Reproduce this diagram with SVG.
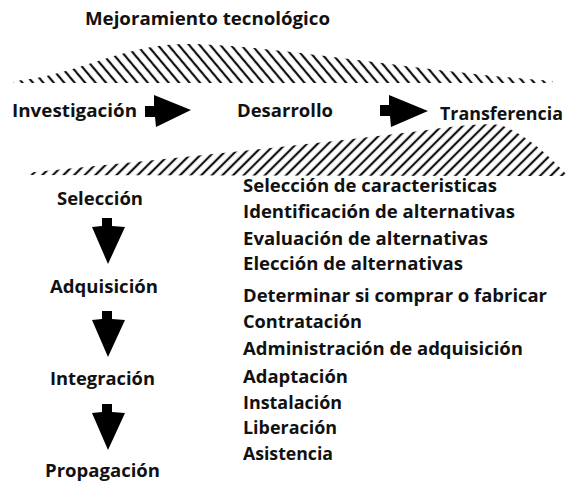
<svg xmlns="http://www.w3.org/2000/svg" width="570" height="482" viewBox="0 0 570 482">
<style>
text{font-family:"Open Sans","DejaVu Sans",sans-serif;font-weight:700;fill:#111;}
.t{font-size:18px;}
.l{font-size:18px;}
.r{font-size:17.5px;}
.arrow{fill:#000;}
</style>
<defs>
<pattern id="hatchBack" patternUnits="userSpaceOnUse" width="8" height="10" patternTransform="rotate(-40)">
<line x1="4" y1="-2" x2="4" y2="12" stroke="#111" stroke-width="2.2"/>
</pattern>
<pattern id="hatchFwd" patternUnits="userSpaceOnUse" width="7.5" height="10" patternTransform="rotate(45)">
<line x1="3.75" y1="-2" x2="3.75" y2="12" stroke="#111" stroke-width="2.2"/>
</pattern>
<path id="downArrow" d="M10 0 H20 V8 L33 9 L16 46 L0 9 L10 8 Z"/>
</defs>
<rect width="570" height="482" fill="#fff"/>

<g id="mejoramiento">
<path d="M13 83 L13 81 C70 78 120 45 183 44 C260 43 420 72 553 81 L553 83 Z" fill="url(#hatchBack)"/>
<text class="t" x="85" y="25" textLength="245" lengthAdjust="spacingAndGlyphs">Mejoramiento tecnológico</text>
</g>

<g id="propagacion-hatch">
<path d="M25 175 L25 173 Q290 147 420 131 Q480 122 500 125 Q530 135 566 174 L566 176 Z" fill="url(#hatchFwd)"/>
</g>

<g id="investigacion"><text class="t" x="12" y="117" textLength="125" lengthAdjust="spacingAndGlyphs">Investigación</text></g>
<g id="desarrollo"><text class="t" x="237" y="117" textLength="96" lengthAdjust="spacingAndGlyphs">Desarrollo</text></g>
<g id="transferencia"><text class="t" x="440" y="120" textLength="123" lengthAdjust="spacingAndGlyphs">Transferencia</text></g>

<g id="seleccion"><text class="l" x="57" y="205" textLength="86" lengthAdjust="spacingAndGlyphs">Selección</text></g>
<g id="adquisicion"><text class="l" x="50" y="293" textLength="108" lengthAdjust="spacingAndGlyphs">Adquisición</text></g>
<g id="integracion"><text class="l" x="50" y="385" textLength="105" lengthAdjust="spacingAndGlyphs">Integración</text></g>
<g id="propagacion"><text class="l" x="45" y="477" textLength="115" lengthAdjust="spacingAndGlyphs">Propagación</text></g>

<g id="actividades">
<text class="r" x="243" y="192" textLength="254" lengthAdjust="spacingAndGlyphs">Selección de caracteristicas</text>
<text class="r" x="243" y="218" textLength="272" lengthAdjust="spacingAndGlyphs">Identificación de alternativas</text>
<text class="r" x="243" y="245" textLength="245" lengthAdjust="spacingAndGlyphs">Evaluación de alternativas</text>
<text class="r" x="243" y="270" textLength="220" lengthAdjust="spacingAndGlyphs">Elección de alternativas</text>
<text class="r" x="243" y="302" textLength="304" lengthAdjust="spacingAndGlyphs">Determinar si comprar o fabricar</text>
<text class="r" x="243" y="328" textLength="119" lengthAdjust="spacingAndGlyphs">Contratación</text>
<text class="r" x="243" y="355" textLength="280" lengthAdjust="spacingAndGlyphs">Administración de adquisición</text>
<text class="r" x="243" y="383" textLength="105" lengthAdjust="spacingAndGlyphs">Adaptación</text>
<text class="r" x="243" y="409" textLength="99" lengthAdjust="spacingAndGlyphs">Instalación</text>
<text class="r" x="243" y="434" textLength="94" lengthAdjust="spacingAndGlyphs">Liberación</text>
<text class="r" x="243" y="460" textLength="90" lengthAdjust="spacingAndGlyphs">Asistencia</text>
</g>

<g id="connectors">
<polygon class="arrow" points="145,106 154,106 154,95 191,110 156,127 155,117 145,117"/>
<polygon class="arrow" points="380,105 389,105 389,95 428,111 391,127 390,116 380,116"/>
<use href="#downArrow" class="arrow" transform="translate(92,218)"/>
<use href="#downArrow" class="arrow" transform="translate(92,311)"/>
<use href="#downArrow" class="arrow" transform="translate(92,404)"/>
</g>
</svg>
